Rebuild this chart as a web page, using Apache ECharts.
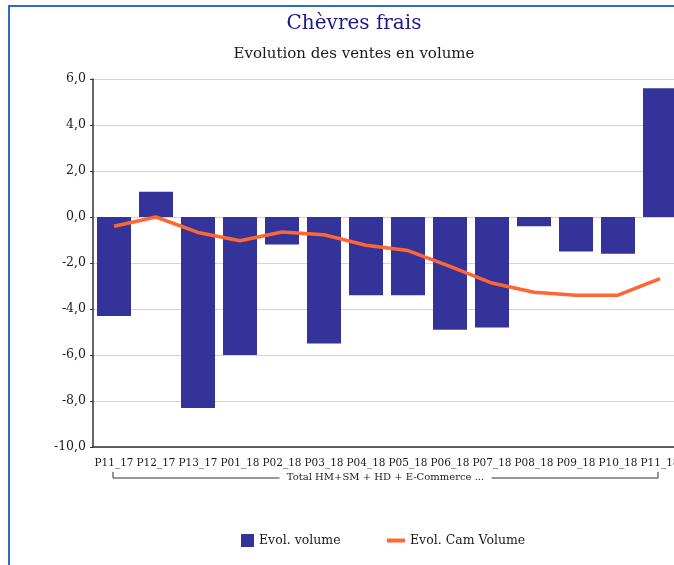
<!DOCTYPE html>
<html>
<head>
<meta charset="utf-8">
<script src="https://cdn.jsdelivr.net/npm/echarts@6/dist/echarts.min.js"></script>
<style>
html,body{margin:0;padding:0;background:#fff;}
#chart{width:674px;height:565px;}
</style>
</head>
<body>
<div id="chart"></div>
<script>
const categories = ['P11_17','P12_17','P13_17','P01_18','P02_18','P03_18','P04_18','P05_18','P06_18','P07_18','P08_18','P09_18','P10_18','P11_18'];
const evolVolume = [-4.3, 1.1, -8.3, -6.0, -1.2, -5.5, -3.4, -3.4, -4.9, -4.8, -0.4, -1.5, -1.6, 5.6];
const evolCamVolume = [-0.4, 0.0, -0.67, -1.03, -0.65, -0.77, -1.23, -1.46, -2.15, -2.87, -3.27, -3.40, -3.40, -2.68];
const groupLabel = 'Total HM+SM + HD + E-Commerce ...';
const yTicks = {min: -10, max: 6, interval: 2};

const FONT = '"DejaVu Serif", "Liberation Serif", serif';
const chart = echarts.init(document.getElementById('chart'));
const option = {
  animation: false,
  textStyle: {fontFamily: FONT},
  title: [
    {text: 'Chèvres frais', left: 349, top: 9, textAlign: 'center',
     textStyle: {fontFamily: FONT, fontSize: 20, fontWeight: 'normal', color: '#1a1a8c'}},
    {text: 'Evolution des ventes en volume', left: 349, top: 42, textAlign: 'center',
     textStyle: {fontFamily: FONT, fontSize: 15, fontWeight: 'normal', color: '#1a1a1a'}}
  ],
  legend: [
    {data: [{name: 'Evol. volume', icon: 'rect'}], left: 236, top: 529, itemWidth: 13, itemHeight: 13, itemGap: 6,
     textStyle: {fontFamily: FONT, fontSize: 12.5, color: '#1a1a1a'}},
    {data: [{name: 'Evol. Cam Volume', icon: 'rect'}], left: 382, top: 529, itemWidth: 18, itemHeight: 4,
     textStyle: {fontFamily: FONT, fontSize: 12.5, color: '#1a1a1a'}}
  ],
  grid: {left: 93, top: 79, right: -7, height: 368, containLabel: false, outerBoundsMode: 'none'},
  xAxis: {
    type: 'category', data: categories,
    axisLine: {onZero: false, lineStyle: {color: '#333', width: 1.5}},
    axisTick: {show: false},
    axisLabel: {interval: 0, fontSize: 10.5, color: '#1a1a1a', margin: 11, fontFamily: FONT}
  },
  yAxis: {
    type: 'value', min: yTicks.min, max: yTicks.max, interval: yTicks.interval,
    axisLine: {show: true, lineStyle: {color: '#333', width: 1.5}},
    axisTick: {show: true, length: 3, lineStyle: {color: '#333'}},
    splitLine: {lineStyle: {color: '#d4d4d4', width: 1}},
    axisLabel: {fontSize: 12.5, color: '#1a1a1a', margin: 7, fontFamily: FONT,
      formatter: v => v.toFixed(1).replace('.', ',')}
  },
  series: [
    {name: 'Evol. volume', type: 'bar', data: evolVolume, barWidth: 34,
     itemStyle: {color: '#333399'}},
    {name: 'Evol. Cam Volume', type: 'line', data: evolCamVolume, symbol: 'none',
     lineStyle: {color: '#ff6633', width: 3.5}, itemStyle: {color: '#ff6633'}}
  ]
};
chart.setOption(option);

// group bracket under category labels + outer frame
const first = chart.convertToPixel({xAxisIndex: 0}, categories[0]) - 1;
const last = chart.convertToPixel({xAxisIndex: 0}, categories[categories.length - 1]) - 2;
const mid = (first + last) / 2;
const by = 478, bt = 472;
const halfText = 106;
chart.setOption({
  graphic: [
    {type: 'rect', shape: {x: 9, y: 6, width: 720, height: 620}, style: {fill: null, stroke: '#2f6cbd', lineWidth: 2}, silent: true},
    {type: 'polyline', shape: {points: [[first, bt], [first, by], [mid - halfText, by]]}, style: {stroke: '#333', lineWidth: 1, fill: null}},
    {type: 'polyline', shape: {points: [[mid + halfText, by], [last, by], [last, bt]]}, style: {stroke: '#333', lineWidth: 1, fill: null}},
    {type: 'text', x: mid, y: by - 1, style: {text: groupLabel, fontFamily: FONT, fontSize: 10, fill: '#1a1a1a', align: 'center', verticalAlign: 'middle'}}
  ]
});
</script>
</body>
</html>
